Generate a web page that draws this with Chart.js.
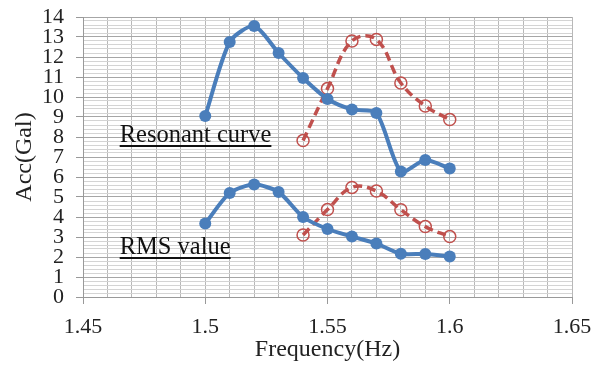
<!DOCTYPE html>
<html>
<head>
<meta charset="utf-8">
<script src="https://cdn.jsdelivr.net/npm/chart.js@4"></script>
<style>
  body { margin: 0; background: #fff; }
  canvas { display: block; }
</style>
</head>
<body>
<canvas id="myChart" width="601" height="367"></canvas>
<script>
// frequencies (Hz)
const freqBlue = [1.50, 1.51, 1.52, 1.53, 1.54, 1.55, 1.56, 1.57, 1.58, 1.59, 1.60];
const freqRed = [1.54, 1.55, 1.56, 1.57, 1.58, 1.59, 1.60];

// resonant curve
const resonantBlue = [9.05, 12.75, 13.55, 12.2, 10.95, 9.9, 9.38, 9.2, 6.28, 6.85, 6.42];
const resonantRed = [7.82, 10.42, 12.8, 12.88, 10.7, 9.55, 8.87];

// RMS value
const rmsBlue = [3.67, 5.2, 5.62, 5.25, 4.0, 3.4, 3.02, 2.67, 2.16, 2.15, 2.02];
const rmsRed = [3.1, 4.37, 5.48, 5.3, 4.36, 3.52, 3.02];

const xTicks = [1.45, 1.5, 1.55, 1.6, 1.65];
const notes = [
  { text: "Resonant curve", x: 1.465, y: 7.75 },
  { text: "RMS value", x: 1.465, y: 2.15 },
];

const blue = "#4a7ebb";
const red = "#c0504d";
const font = "Liberation Serif";

function pts(xs, ys) {
  return xs.map((x, i) => ({ x: x, y: ys[i] }));
}

function blueSet(xs, ys) {
  return {
    data: pts(xs, ys),
    borderColor: blue,
    backgroundColor: blue,
    borderWidth: 4,
    pointRadius: 6,
    pointBorderWidth: 0,
    tension: 0.25,
  };
}

function redSet(xs, ys) {
  return {
    data: pts(xs, ys),
    borderColor: red,
    backgroundColor: "rgba(0,0,0,0)",
    borderWidth: 3.5,
    borderDash: [9, 5],
    pointRadius: 6,
    pointBorderWidth: 1.5,
    pointBorderColor: red,
    tension: 0.4,
  };
}

function isInt(v) {
  return Math.abs(v - Math.round(v)) < 1e-6;
}
function isMajorX(v) {
  return xTicks.some((t) => Math.abs(t - v) < 1e-6);
}

// draws the underlined notes on the plot
const notesPlugin = {
  id: "notes",
  afterDraw(chart) {
    const ctx = chart.ctx;
    const xs = chart.scales.x;
    const ys = chart.scales.y;
    ctx.save();
    ctx.font = "24.5px '" + font + "'";
    ctx.fillStyle = "#111";
    ctx.strokeStyle = "#111";
    ctx.lineWidth = 1.8;
    ctx.textBaseline = "alphabetic";
    for (const n of notes) {
      const px = xs.getPixelForValue(n.x);
      const py = ys.getPixelForValue(n.y);
      ctx.fillText(n.text, px, py);
      const w = ctx.measureText(n.text).width;
      ctx.beginPath();
      ctx.moveTo(px, py + 4);
      ctx.lineTo(px + w, py + 4);
      ctx.stroke();
    }
    ctx.restore();
  },
};

const ctx = document.getElementById("myChart").getContext("2d");
new Chart(ctx, {
  type: "line",
  data: {
    datasets: [
      blueSet(freqBlue, resonantBlue),
      redSet(freqRed, resonantRed),
      blueSet(freqBlue, rmsBlue),
      redSet(freqRed, rmsRed),
    ],
  },
  options: {
    responsive: false,
    animation: false,
    layout: { padding: { top: 17, right: 29, left: 0, bottom: 0 } },
    plugins: { legend: { display: false }, tooltip: { enabled: false } },
    scales: {
      x: {
        type: "linear",
        min: 1.45,
        max: 1.65,
        afterBuildTicks(scale) {
          const t = [];
          for (let i = 0; i <= 20; i++) t.push({ value: Math.round((1.45 + i * 0.01) * 100) / 100 });
          scale.ticks = t;
        },
        afterFit(scale) {
          scale.height = 70;
          scale.paddingRight = 0;
        },
        border: { color: "#999", width: 1 },
        grid: {
          color: "#b8b8b8",
          lineWidth: 1,
          tickLength: 7,
          tickColor: (c) => (c.tick && isMajorX(c.tick.value) ? "#999" : "rgba(0,0,0,0)"),
        },
        ticks: {
          autoSkip: false,
          maxRotation: 0,
          padding: 10,
          color: "#222",
          font: { family: font, size: 22 },
          callback: (v) => (isMajorX(v) ? String(Math.round(v * 100) / 100) : ""),
        },
        title: {
          display: true,
          text: "Frequency(Hz)",
          color: "#222",
          font: { family: font, size: 24 },
          padding: { top: 0, bottom: 3 },
        },
      },
      y: {
        min: 0,
        max: 14,
        afterBuildTicks(scale) {
          const t = [];
          for (let i = 0; i <= 70; i++) t.push({ value: Math.round(i * 2) / 10 });
          scale.ticks = t;
        },
        afterFit(scale) {
          scale.width = 83;
          scale.paddingTop = 0;
          scale.paddingBottom = 0;
        },
        border: { color: "#999", width: 1 },
        grid: {
          color: (c) => (c.tick && isInt(c.tick.value) ? "#a6a6a6" : "#d4d4d4"),
          lineWidth: 1,
          tickLength: 7,
          tickColor: (c) => (c.tick && isInt(c.tick.value) ? "#999" : "rgba(0,0,0,0)"),
        },
        ticks: {
          autoSkip: false,
          padding: 12,
          color: "#222",
          font: { family: font, size: 22 },
          callback: (v) => (isInt(v) ? String(Math.round(v)) : ""),
        },
        title: {
          display: true,
          text: "Acc(Gal)",
          color: "#222",
          font: { family: font, size: 24 },
          padding: { top: 10, bottom: 0 },
        },
      },
    },
  },
  plugins: [notesPlugin],
});
</script>
</body>
</html>
